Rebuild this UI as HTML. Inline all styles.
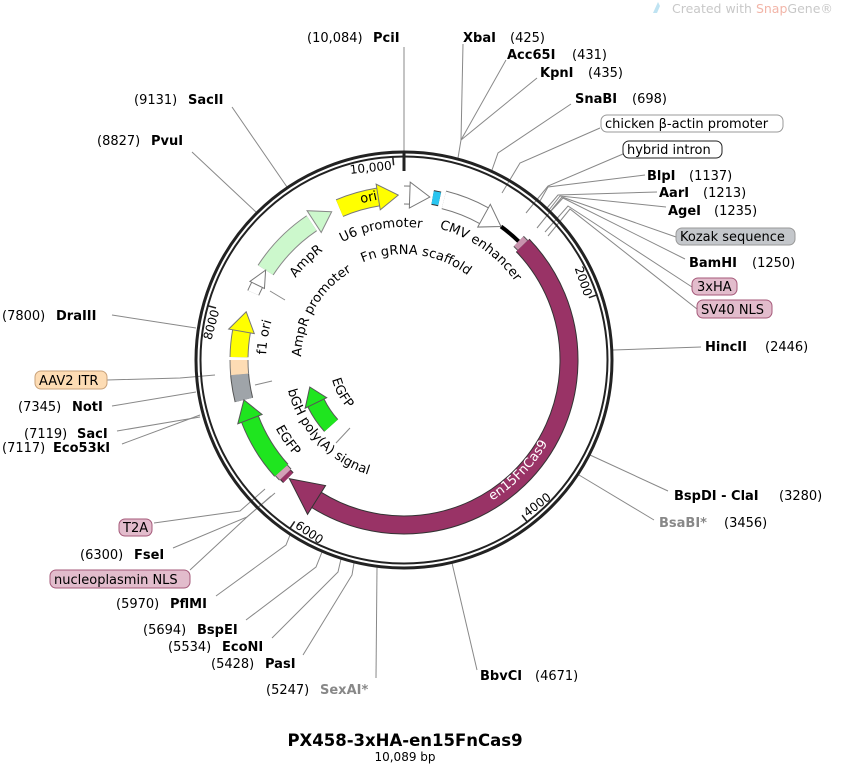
<!DOCTYPE html>
<html><head><meta charset="utf-8"><style>
html,body{margin:0;padding:0;background:#fff}
svg{display:block}
text{font-family:"DejaVu Sans","Liberation Sans",sans-serif;font-size:13px;fill:#000}
.b{font-weight:bold}
.g{fill:#888}
.ln{stroke:#888;stroke-width:1;fill:none}
</style></head><body>
<svg width="848" height="764" viewBox="0 0 848 764" xmlns="http://www.w3.org/2000/svg">
<defs>
<path id="p1" d="M302.1 274.5 A133 133 0 0 1 470.5 244.8"/>
<path id="p2" d="M346.3 271.1 A106 106 0 0 1 481.5 287.7"/>
<path id="p3" d="M392.1 224.5 A136 136 0 0 1 535.4 324.8"/>
<path id="p4" d="M268.6 347.4 A136 136 0 0 1 392.9 224.5"/>
<path id="p5" d="M302.4 376.8 A103 103 0 0 1 369.8 262.9"/>
<path id="p6" d="M285.3 430.4 A138 138 0 0 1 314 255.4"/>
<path id="p7" d="M284.2 367.5 A120 120 0 0 0 390.6 479.3"/>
<path id="p8" d="M259 371.7 A145.5 145.5 0 0 0 341.6 491.4"/>
<path id="p9" d="M340.8 320.5 A74.5 74.5 0 0 0 401.4 434.5"/>
<path id="p10" d="M421.3 525.1 A166 166 0 0 0 569.6 371.6"/>
</defs>

<!-- SnapGene watermark -->
<path d="M653 13 L658 2 L660 6 L657 13 Z" fill="#bfe3f2"/>
<text x="672" y="13" style="font-size:12.5px;fill:#c8c8c8">Created with <tspan style="fill:#f2b5a8">Snap</tspan>Gene®</text>

<!-- connector lines -->
<g class="ln">
<polyline points="404,47 404,152"/>
<polyline points="463,44 461,140 458,158"/>
<polyline points="506,60 461,140"/>
<polyline points="537,78 461,140"/>
<polyline points="571,104 498,153 492,170"/>
<polyline points="600,128 520,163 502,193"/>
<polyline points="623,154 548,186 526,213"/>
<polyline points="645,175 548,187 540,201"/>
<polyline points="657,192 558,195 547,208"/>
<polyline points="666,207 560,196 549,210"/>
<polyline points="676,237 562,197 537,228"/>
<polyline points="685,259 563,198 551,211"/>
<polyline points="692,287 568,206 545,232"/>
<polyline points="697,309 570,209 548,236"/>
<polyline points="701,347 613,350"/>
<polyline points="668,491 590,455"/>
<polyline points="654,520 579,475"/>
<polyline points="477,670 452,563"/>
<polyline points="376,678 377,567"/>
<polyline points="303,655 352,575 354,563"/>
<polyline points="272,638 338,572 341,559"/>
<polyline points="246,620 316,567 322,552"/>
<polyline points="216,596 286,545 290,535"/>
<polyline points="190,570 247,517 275,493"/>
<polyline points="173,548 247,517 271,496"/>
<polyline points="154,523 240,511 265,489"/>
<polyline points="122,444 200,415"/>
<polyline points="117,431 200,417"/>
<polyline points="112,406 196,392"/>
<polyline points="107,380 180,378 215,375"/>
<polyline points="112,315 196,328"/>
<polyline points="192,152 256,212"/>
<polyline points="232,107 287,187"/>
<polyline points="270,291 285,300"/>
<polyline points="255,385 272,381"/>
<polyline points="336,443 350,428"/>
</g>

<!-- backbone -->
<circle cx="404" cy="360" r="208" fill="none" stroke="#222" stroke-width="3"/>
<circle cx="404" cy="360" r="203.5" fill="none" stroke="#222" stroke-width="2"/>
<line x1="404" y1="153" x2="404" y2="171" stroke="#222" stroke-width="3"/>

<!-- ticks -->
<g transform="translate(596.4,295.1) rotate(71.37)"><line x1="0" y1="0" x2="0" y2="8" stroke="#222" stroke-width="1.5"/><text x="-2" y="12" text-anchor="end" style="font-size:12px">2000</text></g>
<g transform="translate(526.9,521.5) rotate(-37.27)"><line x1="0" y1="0" x2="0" y2="-8" stroke="#222" stroke-width="1.5"/><text x="3" y="-3" style="font-size:12px">4000</text></g>
<g transform="translate(290.2,528.1) rotate(34.1)"><line x1="0" y1="0" x2="0" y2="-8" stroke="#222" stroke-width="1.5"/><text x="3" y="-3" style="font-size:12px">6000</text></g>
<g transform="translate(208.3,305.9) rotate(-74.54)"><line x1="0" y1="0" x2="0" y2="8" stroke="#222" stroke-width="1.5"/><text x="-2" y="12" text-anchor="end" style="font-size:12px">8000</text></g>
<g transform="translate(392.8,157.3) rotate(-6)"><line x1="0" y1="0" x2="0" y2="8" stroke="#222" stroke-width="1.5"/><text x="-2" y="12" text-anchor="end" style="font-size:12px">10,000</text></g>

<!-- features -->
<g fill="none">
<circle cx="404" cy="360" r="165" pathLength="360" stroke="#777" stroke-width="19" stroke-dasharray="14 360" transform="rotate(247 404 360)"/>
<circle cx="404" cy="360" r="165" pathLength="360" stroke="#ffff00" stroke-width="17" stroke-dasharray="14 360" transform="rotate(247 404 360)"/>
<circle cx="404" cy="360" r="165" pathLength="360" stroke="#777" stroke-width="19" stroke-dasharray="2.5 360" transform="rotate(-90 404 360)"/>
<circle cx="404" cy="360" r="165" pathLength="360" stroke="#fff" stroke-width="17" stroke-dasharray="2.5 360" transform="rotate(-90 404 360)"/>
<circle cx="404" cy="360" r="165" pathLength="360" stroke="#333" stroke-width="15" stroke-dasharray="2.5 360" transform="rotate(-80 404 360)"/>
<circle cx="404" cy="360" r="165" pathLength="360" stroke="#29c5f0" stroke-width="13" stroke-dasharray="2.5 360" transform="rotate(-80 404 360)"/>
<circle cx="404" cy="360" r="165" pathLength="360" stroke="#777" stroke-width="19" stroke-dasharray="15 360" transform="rotate(-76 404 360)"/>
<circle cx="404" cy="360" r="165" pathLength="360" stroke="#fff" stroke-width="17" stroke-dasharray="15 360" transform="rotate(-76 404 360)"/>
<circle cx="404" cy="360" r="165" pathLength="360" stroke="#000" stroke-width="4" stroke-dasharray="8 360" transform="rotate(-54 404 360)"/>
<circle cx="404" cy="360" r="165" pathLength="360" stroke="#555" stroke-width="15" stroke-dasharray="2 360" transform="rotate(-46 404 360)"/>
<circle cx="404" cy="360" r="165" pathLength="360" stroke="#c893ad" stroke-width="13" stroke-dasharray="2 360" transform="rotate(-46 404 360)"/>
<circle cx="404" cy="360" r="165" pathLength="360" stroke="#333" stroke-width="19" stroke-dasharray="166 360" transform="rotate(-44 404 360)"/>
<circle cx="404" cy="360" r="165" pathLength="360" stroke="#993366" stroke-width="17" stroke-dasharray="166 360" transform="rotate(-44 404 360)"/>
<circle cx="404" cy="360" r="165" pathLength="360" stroke="#333" stroke-width="15" stroke-dasharray="1.5 360" transform="rotate(134.5 404 360)"/>
<circle cx="404" cy="360" r="165" pathLength="360" stroke="#993366" stroke-width="13" stroke-dasharray="1.5 360" transform="rotate(134.5 404 360)"/>
<circle cx="404" cy="360" r="165" pathLength="360" stroke="#555" stroke-width="17" stroke-dasharray="2 360" transform="rotate(136 404 360)"/>
<circle cx="404" cy="360" r="165" pathLength="360" stroke="#d4a0b8" stroke-width="15" stroke-dasharray="2 360" transform="rotate(136 404 360)"/>
<circle cx="404" cy="360" r="165" pathLength="360" stroke="#555" stroke-width="19" stroke-dasharray="21 360" transform="rotate(138 404 360)"/>
<circle cx="404" cy="360" r="165" pathLength="360" stroke="#1fe51f" stroke-width="17" stroke-dasharray="21 360" transform="rotate(138 404 360)"/>
<circle cx="404" cy="360" r="165" pathLength="360" stroke="#555" stroke-width="19" stroke-dasharray="9 360" transform="rotate(166 404 360)"/>
<circle cx="404" cy="360" r="165" pathLength="360" stroke="#9fa4a9" stroke-width="17" stroke-dasharray="9 360" transform="rotate(166 404 360)"/>
<circle cx="404" cy="360" r="165" pathLength="360" stroke="#777" stroke-width="19" stroke-dasharray="5 360" transform="rotate(175 404 360)"/>
<circle cx="404" cy="360" r="165" pathLength="360" stroke="#fddcb4" stroke-width="17" stroke-dasharray="5 360" transform="rotate(175 404 360)"/>
<circle cx="404" cy="360" r="165" pathLength="360" stroke="#777" stroke-width="19" stroke-dasharray="9 360" transform="rotate(181 404 360)"/>
<circle cx="404" cy="360" r="165" pathLength="360" stroke="#ffff00" stroke-width="17" stroke-dasharray="9 360" transform="rotate(181 404 360)"/>
<circle cx="404" cy="360" r="165" pathLength="360" stroke="#777" stroke-width="13" stroke-dasharray="3 360" transform="rotate(204 404 360)"/>
<circle cx="404" cy="360" r="165" pathLength="360" stroke="#fff" stroke-width="11" stroke-dasharray="3 360" transform="rotate(204 404 360)"/>
<circle cx="404" cy="360" r="165" pathLength="360" stroke="#888" stroke-width="19" stroke-dasharray="23 360" transform="rotate(213 404 360)"/>
<circle cx="404" cy="360" r="165" pathLength="360" stroke="#ccf8cc" stroke-width="17" stroke-dasharray="23 360" transform="rotate(213 404 360)"/>
<circle cx="404" cy="360" r="98" pathLength="360" stroke="#555" stroke-width="19" stroke-dasharray="16 360" transform="rotate(138 404 360)"/>
<circle cx="404" cy="360" r="98" pathLength="360" stroke="#1fe51f" stroke-width="17" stroke-dasharray="16 360" transform="rotate(138 404 360)"/>
</g>
<!-- arrowheads -->
<polygon points="404,195 382.3,183.3 385.5,209.1" fill="#ffff00" stroke="#777" transform="rotate(358 404 360)"/>
<polygon points="404,195 382.3,183.3 385.5,209.1" fill="#fff" stroke="#777" transform="rotate(9 404 360)"/>
<polygon points="404,195 382.3,183.3 385.5,209.1" fill="#fff" stroke="#777" transform="rotate(36 404 360)"/>
<polygon points="404,195 366.2,182 373.2,215.2" fill="#993366" stroke="#333" transform="rotate(224 404 360)"/>
<polygon points="404,195 382.3,183.3 385.5,209.1" fill="#1fe51f" stroke="#555" transform="rotate(256 404 360)"/>
<polygon points="404,195 382.3,183.3 385.5,209.1" fill="#ffff00" stroke="#777" transform="rotate(287 404 360)"/>
<polygon points="404,195 386,188 388,204" fill="#fff" stroke="#777" transform="rotate(303 404 360)"/>
<polygon points="404,195 382.3,183.3 385.5,209.1" fill="#ccf8cc" stroke="#888" transform="rotate(334 404 360)"/>
<polygon points="404,262 384.9,251.7 389.1,275.3" fill="#1fe51f" stroke="#555" transform="rotate(254 404 360)"/>

<!-- inner labels -->
<text x="360" y="202" transform="rotate(-12 366 197)" style="font-size:13px">ori</text>
<text><textPath href="#p1" startOffset="50%" text-anchor="middle">U6 promoter</textPath></text>
<text><textPath href="#p2" startOffset="50%" text-anchor="middle">Fn gRNA scaffold</textPath></text>
<text><textPath href="#p3" startOffset="50%" text-anchor="middle">CMV enhancer</textPath></text>
<text><textPath href="#p4" startOffset="50%" text-anchor="middle">AmpR</textPath></text>
<text><textPath href="#p5" startOffset="50%" text-anchor="middle">AmpR promoter</textPath></text>
<text><textPath href="#p6" startOffset="50%" text-anchor="middle">f1 ori</textPath></text>
<text><textPath href="#p7" startOffset="50%" text-anchor="middle">bGH poly(A) signal</textPath></text>
<text><textPath href="#p8" startOffset="50%" text-anchor="middle">EGFP</textPath></text>
<text><textPath href="#p9" startOffset="50%" text-anchor="middle">EGFP</textPath></text>
<text style="fill:#fff;font-size:13px"><textPath href="#p10" startOffset="50%" text-anchor="middle" style="fill:#fff">en15FnCas9</textPath></text>

<!-- enzyme labels -->
<text x="307" y="42">(10,084)</text><text x="373" y="42" class="b">PciI</text>
<text x="463" y="42" class="b">XbaI</text><text x="510" y="42">(425)</text>
<text x="507" y="59" class="b">Acc65I</text><text x="572" y="59">(431)</text>
<text x="540" y="77" class="b">KpnI</text><text x="588" y="77">(435)</text>
<text x="575" y="103" class="b">SnaBI</text><text x="632" y="103">(698)</text>
<text x="647" y="180" class="b">BlpI</text><text x="689" y="180">(1137)</text>
<text x="659" y="197" class="b">AarI</text><text x="703" y="197">(1213)</text>
<text x="668" y="215" class="b">AgeI</text><text x="714" y="215">(1235)</text>
<text x="689" y="267" class="b">BamHI</text><text x="752" y="267">(1250)</text>
<text x="705" y="351" class="b">HincII</text><text x="765" y="351">(2446)</text>
<text x="674" y="500" class="b">BspDI - ClaI</text><text x="779" y="500">(3280)</text>
<text x="659" y="527" class="b g">BsaBI*</text><text x="724" y="527">(3456)</text>
<text x="480" y="680" class="b">BbvCI</text><text x="535" y="680">(4671)</text>
<text x="266" y="694">(5247)</text><text x="320" y="694" class="b g">SexAI*</text>
<text x="211" y="668">(5428)</text><text x="265" y="668" class="b">PasI</text>
<text x="168" y="651">(5534)</text><text x="222" y="651" class="b">EcoNI</text>
<text x="143" y="634">(5694)</text><text x="197" y="634" class="b">BspEI</text>
<text x="116" y="608">(5970)</text><text x="170" y="608" class="b">PflMI</text>
<text x="80" y="559">(6300)</text><text x="134" y="559" class="b">FseI</text>
<text x="2" y="452">(7117)</text><text x="53" y="452" class="b">Eco53kI</text>
<text x="24" y="438">(7119)</text><text x="77" y="438" class="b">SacI</text>
<text x="18" y="411">(7345)</text><text x="72" y="411" class="b">NotI</text>
<text x="2" y="320">(7800)</text><text x="56" y="320" class="b">DraIII</text>
<text x="97" y="145">(8827)</text><text x="151" y="145" class="b">PvuI</text>
<text x="134" y="104">(9131)</text><text x="188" y="104" class="b">SacII</text>

<!-- feature boxes -->
<rect x="601" y="115" width="182" height="17" rx="6" fill="#fff" stroke="#999"/>
<text x="605" y="128">chicken β-actin promoter</text>
<rect x="623" y="141" width="99" height="17" rx="6" fill="#fff" stroke="#222"/>
<text x="627" y="154">hybrid intron</text>
<rect x="676" y="228" width="119" height="17" rx="6" fill="#c4c7cb" stroke="#999"/>
<text x="680" y="241">Kozak sequence</text>
<rect x="692" y="278" width="45" height="17" rx="6" fill="#e2bccc" stroke="#a55a7a"/>
<text x="697" y="291">3xHA</text>
<rect x="697" y="300" width="75" height="18" rx="6" fill="#e2bccc" stroke="#a55a7a"/>
<text x="701" y="314">SV40 NLS</text>
<rect x="35" y="371" width="72" height="18" rx="6" fill="#fddcb4" stroke="#c9a27a"/>
<text x="39" y="385">AAV2 ITR</text>
<rect x="119" y="519" width="33" height="17" rx="6" fill="#e2bccc" stroke="#a55a7a"/>
<text x="123" y="532">T2A</text>
<rect x="50" y="570" width="140" height="18" rx="6" fill="#e2bccc" stroke="#a55a7a"/>
<text x="54" y="584">nucleoplasmin NLS</text>

<!-- title -->
<text x="405" y="746" text-anchor="middle" class="b" style="font-size:16.5px">PX458-3xHA-en15FnCas9</text>
<text x="405" y="761" text-anchor="middle" style="font-size:12px">10,089 bp</text>
</svg>
</body></html>
